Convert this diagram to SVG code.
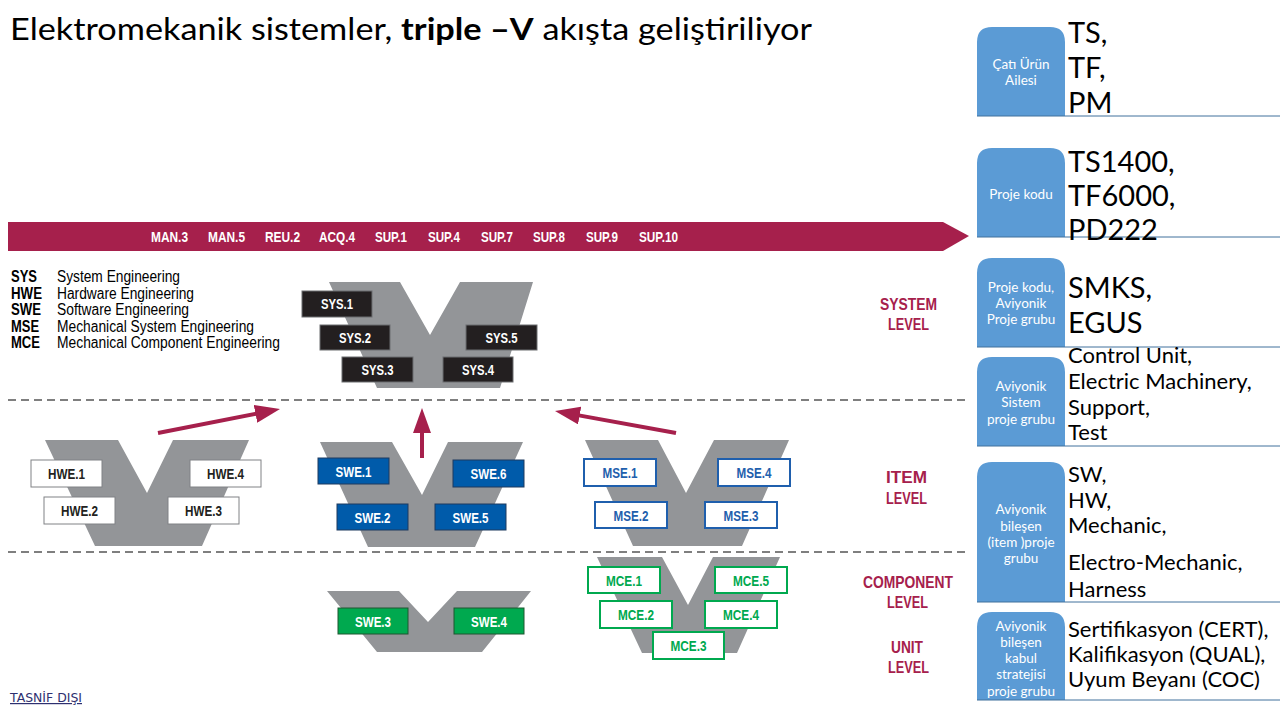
<svg xmlns="http://www.w3.org/2000/svg" width="1280" height="720" viewBox="0 0 1280 720">
<style>
.title{font-family:Lato,"Open Sans",sans-serif;font-size:31px;fill:#000}
.band{font-family:"Liberation Sans",Arial,sans-serif;font-weight:bold;font-size:14.5px;fill:#fff}
.lgk{font-family:"Liberation Sans",Arial,sans-serif;font-weight:bold;font-size:16px;fill:#000}
.lgv{font-family:"Liberation Sans",Arial,sans-serif;font-size:16px;fill:#000}
.v{fill:#939598}
.bx{font-family:"Liberation Sans",Arial,sans-serif;font-weight:bold;font-size:15.5px}
.sys .bx{font-size:14.5px}
.sys rect{fill:#231F20;stroke:#6D6E71;stroke-width:1}
.sys text{fill:#fff}
.hwe rect{fill:#fff;stroke:#808285;stroke-width:1}
.hwe text{fill:#231F20}
.swe rect{fill:#005BAA;stroke:#1F3A5F;stroke-width:1}
.swe text{fill:#fff}
.swc rect{fill:#00A94F;stroke:#1E5631;stroke-width:1}
.swc text{fill:#fff}
.mse rect{fill:#fff;stroke:#1F5FAD;stroke-width:2}
.mse text{fill:#1F5FAD}
.mce rect{fill:#fff;stroke:#00A94F;stroke-width:2}
.mce text{fill:#00A94F}
.lvl{font-family:"Liberation Sans",Arial,sans-serif;font-weight:bold;font-size:16.5px;fill:#A6204C}
.dash{stroke:#7F7F7F;stroke-width:2;stroke-dasharray:8 5;fill:none}
.conn{stroke:#A6204C;stroke-width:4;fill:none;marker-end:url(#ah)}
.pb{fill:#5B9BD5}
.pl{font-family:Lato,"Open Sans",sans-serif;font-size:13.5px;fill:#fff;text-anchor:middle}
.pt{font-family:Lato,"Open Sans",sans-serif;font-size:29px;fill:#000}
.ps{font-family:Lato,"Open Sans",sans-serif;font-size:22px;fill:#000}
.ul{stroke:#41719C;stroke-width:1}
</style>
<defs>
<marker id="ah" markerUnits="userSpaceOnUse" viewBox="0 0 25 18" refX="5" refY="9" markerWidth="25" markerHeight="18" orient="auto">
<path d="M0,0 L25,9 L0,18 Z" fill="#A6204C"/>
</marker>
</defs>

<text class="title" x="10" y="40" textLength="802" lengthAdjust="spacingAndGlyphs">Elektromekanik sistemler, <tspan font-weight="bold">triple –V</tspan> akışta geliştiriliyor</text>

<g id="band">
<polygon points="8,222 943,222 969,236 943,251 8,251" fill="#A6204C"/>
<text class="band" x="151" y="241.5" textLength="37" lengthAdjust="spacingAndGlyphs">MAN.3</text>
<text class="band" x="208" y="241.5" textLength="37" lengthAdjust="spacingAndGlyphs">MAN.5</text>
<text class="band" x="265" y="241.5" textLength="35" lengthAdjust="spacingAndGlyphs">REU.2</text>
<text class="band" x="319" y="241.5" textLength="36" lengthAdjust="spacingAndGlyphs">ACQ.4</text>
<text class="band" x="375" y="241.5" textLength="32" lengthAdjust="spacingAndGlyphs">SUP.1</text>
<text class="band" x="428" y="241.5" textLength="32" lengthAdjust="spacingAndGlyphs">SUP.4</text>
<text class="band" x="481" y="241.5" textLength="32" lengthAdjust="spacingAndGlyphs">SUP.7</text>
<text class="band" x="533" y="241.5" textLength="32" lengthAdjust="spacingAndGlyphs">SUP.8</text>
<text class="band" x="586" y="241.5" textLength="32" lengthAdjust="spacingAndGlyphs">SUP.9</text>
<text class="band" x="639" y="241.5" textLength="39" lengthAdjust="spacingAndGlyphs">SUP.10</text>
</g>

<g id="legend">
<text class="lgk" x="11" y="282" textLength="26" lengthAdjust="spacingAndGlyphs">SYS</text><text class="lgv" x="57" y="282" textLength="123" lengthAdjust="spacingAndGlyphs">System Engineering</text>
<text class="lgk" x="11" y="298.5" textLength="31" lengthAdjust="spacingAndGlyphs">HWE</text><text class="lgv" x="57" y="298.5" textLength="137" lengthAdjust="spacingAndGlyphs">Hardware Engineering</text>
<text class="lgk" x="11" y="315" textLength="30" lengthAdjust="spacingAndGlyphs">SWE</text><text class="lgv" x="57" y="315" textLength="132" lengthAdjust="spacingAndGlyphs">Software Engineering</text>
<text class="lgk" x="11" y="331.5" textLength="28" lengthAdjust="spacingAndGlyphs">MSE</text><text class="lgv" x="57" y="331.5" textLength="197" lengthAdjust="spacingAndGlyphs">Mechanical System Engineering</text>
<text class="lgk" x="11" y="348" textLength="29" lengthAdjust="spacingAndGlyphs">MCE</text><text class="lgv" x="57" y="348" textLength="223" lengthAdjust="spacingAndGlyphs">Mechanical Component Engineering</text>
</g>

<line class="dash" x1="8" y1="400" x2="970" y2="400"/>
<line class="dash" x1="8" y1="552" x2="970" y2="552"/>

<g id="sys-v" class="sys">
<polygon class="v" points="329,282 400,282 430,335 460,282 533,282 500,388 377,388"/>
<g id="SYS.1"><rect x="302" y="291" width="70" height="26"/><text class="bx" x="321" y="309" textLength="32" lengthAdjust="spacingAndGlyphs">SYS.1</text></g>
<g id="SYS.2"><rect x="320" y="325" width="70" height="25"/><text class="bx" x="339" y="342.5" textLength="32" lengthAdjust="spacingAndGlyphs">SYS.2</text></g>
<g id="SYS.3"><rect x="342" y="357" width="71" height="25"/><text class="bx" x="361.5" y="374.5" textLength="32" lengthAdjust="spacingAndGlyphs">SYS.3</text></g>
<g id="SYS.4"><rect x="443" y="357" width="70" height="25"/><text class="bx" x="462" y="374.5" textLength="32" lengthAdjust="spacingAndGlyphs">SYS.4</text></g>
<g id="SYS.5"><rect x="466" y="325" width="71" height="25"/><text class="bx" x="485.5" y="342.5" textLength="32" lengthAdjust="spacingAndGlyphs">SYS.5</text></g>
</g>

<g id="hwe-v" class="hwe">
<polygon class="v" points="45,440 118,440 147,493 173,440 249,440 202,546 95,546"/>
<g id="HWE.1"><rect x="31" y="460" width="71" height="27"/><text class="bx" x="48" y="479" textLength="37" lengthAdjust="spacingAndGlyphs">HWE.1</text></g>
<g id="HWE.2"><rect x="44" y="497" width="71" height="27"/><text class="bx" x="61" y="516" textLength="37" lengthAdjust="spacingAndGlyphs">HWE.2</text></g>
<g id="HWE.3"><rect x="168" y="497" width="71" height="27"/><text class="bx" x="185" y="516" textLength="37" lengthAdjust="spacingAndGlyphs">HWE.3</text></g>
<g id="HWE.4"><rect x="190" y="460" width="71" height="27"/><text class="bx" x="207" y="479" textLength="37" lengthAdjust="spacingAndGlyphs">HWE.4</text></g>
</g>

<g id="swe-v" class="swe">
<polygon class="v" points="320,442 392,442 422,495 448,442 523,442 475,547 368,547"/>
<g id="SWE.1"><rect x="318" y="458" width="71" height="26"/><text class="bx" x="335.5" y="476.5" textLength="36" lengthAdjust="spacingAndGlyphs">SWE.1</text></g>
<g id="SWE.2"><rect x="337" y="504" width="71" height="26"/><text class="bx" x="354.5" y="522.5" textLength="36" lengthAdjust="spacingAndGlyphs">SWE.2</text></g>
<g id="SWE.5"><rect x="435" y="504" width="71" height="26"/><text class="bx" x="452.5" y="522.5" textLength="36" lengthAdjust="spacingAndGlyphs">SWE.5</text></g>
<g id="SWE.6"><rect x="453" y="460" width="71" height="27"/><text class="bx" x="470.5" y="479" textLength="36" lengthAdjust="spacingAndGlyphs">SWE.6</text></g>
</g>

<g id="mse-v" class="mse">
<polygon class="v" points="585,440 658,440 686,493 714,440 789,440 742,546 633,546"/>
<g id="MSE.1"><rect x="584" y="459" width="72" height="27"/><text class="bx" x="602.5" y="478" textLength="35" lengthAdjust="spacingAndGlyphs">MSE.1</text></g>
<g id="MSE.2"><rect x="595" y="502" width="72" height="26"/><text class="bx" x="613.5" y="520.5" textLength="35" lengthAdjust="spacingAndGlyphs">MSE.2</text></g>
<g id="MSE.3"><rect x="705" y="502" width="72" height="26"/><text class="bx" x="723.5" y="520.5" textLength="35" lengthAdjust="spacingAndGlyphs">MSE.3</text></g>
<g id="MSE.4"><rect x="718" y="459" width="72" height="27"/><text class="bx" x="736.5" y="478" textLength="35" lengthAdjust="spacingAndGlyphs">MSE.4</text></g>
</g>

<g id="swc-v" class="swc">
<polygon class="v" points="327,591 399,591 428,622 457,591 531,591 482,652 377,652"/>
<g id="SWE.3"><rect x="338" y="608" width="70" height="26"/><text class="bx" x="355" y="626.5" textLength="36" lengthAdjust="spacingAndGlyphs">SWE.3</text></g>
<g id="SWE.4"><rect x="454" y="608" width="70" height="26"/><text class="bx" x="471" y="626.5" textLength="36" lengthAdjust="spacingAndGlyphs">SWE.4</text></g>
</g>

<g id="mce-v" class="mce">
<polygon class="v" points="597,557 662,557 688,605 713,557 780,557 737,653 642,653"/>
<g id="MCE.1"><rect x="588" y="567" width="72" height="26"/><text class="bx" x="606" y="585.5" textLength="36" lengthAdjust="spacingAndGlyphs">MCE.1</text></g>
<g id="MCE.2"><rect x="600" y="601" width="72" height="27"/><text class="bx" x="618" y="620" textLength="36" lengthAdjust="spacingAndGlyphs">MCE.2</text></g>
<g id="MCE.3"><rect x="653" y="632" width="71" height="27"/><text class="bx" x="670.5" y="651" textLength="36" lengthAdjust="spacingAndGlyphs">MCE.3</text></g>
<g id="MCE.4"><rect x="705" y="601" width="72" height="27"/><text class="bx" x="723" y="620" textLength="36" lengthAdjust="spacingAndGlyphs">MCE.4</text></g>
<g id="MCE.5"><rect x="715" y="567" width="72" height="26"/><text class="bx" x="733" y="585.5" textLength="36" lengthAdjust="spacingAndGlyphs">MCE.5</text></g>
</g>

<g id="connectors">
<line class="conn" x1="158" y1="433" x2="260.4" y2="412.9"/>
<line class="conn" x1="422" y1="458" x2="422" y2="428"/>
<line class="conn" x1="676" y1="433" x2="574.7" y2="414.6"/>
</g>

<g id="levels">
<text class="lvl" x="880" y="310" textLength="57" lengthAdjust="spacingAndGlyphs">SYSTEM</text><text class="lvl" x="888" y="330" textLength="41" lengthAdjust="spacingAndGlyphs">LEVEL</text>
<text class="lvl" x="886" y="483" textLength="41" lengthAdjust="spacingAndGlyphs">ITEM</text><text class="lvl" x="886" y="504" textLength="41" lengthAdjust="spacingAndGlyphs">LEVEL</text>
<text class="lvl" x="863" y="588" textLength="90" lengthAdjust="spacingAndGlyphs">COMPONENT</text><text class="lvl" x="887" y="608" textLength="41" lengthAdjust="spacingAndGlyphs">LEVEL</text>
<text class="lvl" x="891" y="653" textLength="32" lengthAdjust="spacingAndGlyphs">UNIT</text><text class="lvl" x="888" y="673" textLength="41" lengthAdjust="spacingAndGlyphs">LEVEL</text>
</g>

<g id="panel1">
<path class="pb" d="M977,116 V42 Q977,27 992,27 H1050 Q1065,27 1065,42 V116 Z"/>
<line class="ul" x1="977" y1="116" x2="1280" y2="116"/>
<text class="pl" x="1021" y="69">Çatı Ürün</text><text class="pl" x="1021" y="85">Ailesi</text>
<text class="pt" x="1068" y="43">TS,</text><text class="pt" x="1068" y="78">TF,</text><text class="pt" x="1068" y="113">PM</text>
</g>
<g id="panel2">
<path class="pb" d="M977,237 V163 Q977,148 992,148 H1050 Q1065,148 1065,163 V237 Z"/>
<line class="ul" x1="977" y1="237" x2="1280" y2="237"/>
<text class="pl" x="1021" y="199">Proje kodu</text>
<text class="pt" x="1068" y="172">TS1400,</text><text class="pt" x="1068" y="206">TF6000,</text><text class="pt" x="1068" y="240">PD222</text>
</g>
<g id="panel3">
<path class="pb" d="M977,347 V273 Q977,258 992,258 H1050 Q1065,258 1065,273 V347 Z"/>
<line class="ul" x1="977" y1="347" x2="1280" y2="347"/>
<text class="pl" x="1021" y="292">Proje kodu,</text><text class="pl" x="1021" y="308">Aviyonik</text><text class="pl" x="1021" y="324">Proje grubu</text>
<text class="pt" x="1068" y="298">SMKS,</text><text class="pt" x="1068" y="333">EGUS</text>
</g>
<g id="panel4">
<path class="pb" d="M977,446 V372 Q977,357 992,357 H1050 Q1065,357 1065,372 V446 Z"/>
<line class="ul" x1="977" y1="446" x2="1280" y2="446"/>
<text class="pl" x="1021" y="391">Aviyonik</text><text class="pl" x="1021" y="407">Sistem</text><text class="pl" x="1021" y="424">proje grubu</text>
<text class="ps" x="1068" y="363">Control Unit,</text><text class="ps" x="1068" y="389">Electric Machinery,</text><text class="ps" x="1068" y="415">Support,</text><text class="ps" x="1068" y="440">Test</text>
</g>
<g id="panel5">
<path class="pb" d="M977,602 V477 Q977,462 992,462 H1050 Q1065,462 1065,477 V602 Z"/>
<line class="ul" x1="977" y1="602" x2="1280" y2="602"/>
<text class="pl" x="1021" y="514">Aviyonik</text><text class="pl" x="1021" y="531">bileşen</text><text class="pl" x="1021" y="547">(item )proje</text><text class="pl" x="1021" y="563">grubu</text>
<text class="ps" x="1068" y="482">SW,</text><text class="ps" x="1068" y="508">HW,</text><text class="ps" x="1068" y="533">Mechanic,</text><text class="ps" x="1068" y="570">Electro-Mechanic,</text><text class="ps" x="1068" y="597">Harness</text>
</g>
<g id="panel6">
<path class="pb" d="M977,700 V627 Q977,612 992,612 H1050 Q1065,612 1065,627 V700 Z"/>
<line class="ul" x1="977" y1="700" x2="1280" y2="700"/>
<text class="pl" x="1021" y="631">Aviyonik</text><text class="pl" x="1021" y="647">bileşen</text><text class="pl" x="1021" y="663">kabul</text><text class="pl" x="1021" y="679">stratejisi</text><text class="pl" x="1021" y="696">proje grubu</text>
<text class="ps" x="1068" y="637">Sertifikasyon (CERT),</text><text class="ps" x="1068" y="662">Kalifikasyon (QUAL),</text><text class="ps" x="1068" y="687">Uyum Beyanı (COC)</text>
</g>

<text x="10" y="702" font-family="'DejaVu Sans',sans-serif" font-size="12" fill="#2E3070" text-decoration="underline" textLength="72" lengthAdjust="spacingAndGlyphs">TASNİF DIŞI</text>
</svg>
